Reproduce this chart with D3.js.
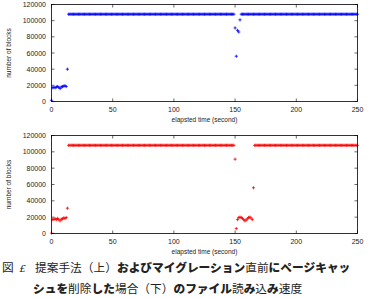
<!DOCTYPE html>
<html>
<head>
<meta charset="utf-8">
<script src="https://cdn.jsdelivr.net/npm/d3@7"></script>
<style>
  html, body { margin: 0; padding: 0; background: #fff; }
  svg { display: block; }
</style>
</head>
<body>
<div id="chart"></div>
<script>
// one sample per second, t = 0 .. 250
const proposedBlocks = [
  1500, 17000, 17500, 17000, 18000, 18500, 17500, 16000, 18000, 18500,
  19000, 19500, 18500, 40000, 108000, 108000, 108000, 108000, 108000, 108000,
  108000, 108000, 108000, 108000, 108000, 108000, 108000, 108000, 108000, 108000,
  108000, 108000, 108000, 108000, 108000, 108000, 108000, 108000, 108000, 108000,
  108000, 108000, 108000, 108000, 108000, 108000, 108000, 108000, 108000, 108000,
  108000, 108000, 108000, 108000, 108000, 108000, 108000, 108000, 108000, 108000,
  108000, 108000, 108000, 108000, 108000, 108000, 108000, 108000, 108000, 108000,
  108000, 108000, 108000, 108000, 108000, 108000, 108000, 108000, 108000, 108000,
  108000, 108000, 108000, 108000, 108000, 108000, 108000, 108000, 108000, 108000,
  108000, 108000, 108000, 108000, 108000, 108000, 108000, 108000, 108000, 108000,
  108000, 108000, 108000, 108000, 108000, 108000, 108000, 108000, 108000, 108000,
  108000, 108000, 108000, 108000, 108000, 108000, 108000, 108000, 108000, 108000,
  108000, 108000, 108000, 108000, 108000, 108000, 108000, 108000, 108000, 108000,
  108000, 108000, 108000, 108000, 108000, 108000, 108000, 108000, 108000, 108000,
  108000, 108000, 108000, 108000, 108000, 108000, 108000, 108000, 108000, 108000,
  91000, 56000, 88000, 86000, 101000, 108000, 108000, 108000, 108000, 108000,
  108000, 108000, 108000, 108000, 108000, 108000, 108000, 108000, 108000, 108000,
  108000, 108000, 108000, 108000, 108000, 108000, 108000, 108000, 108000, 108000,
  108000, 108000, 108000, 108000, 108000, 108000, 108000, 108000, 108000, 108000,
  108000, 108000, 108000, 108000, 108000, 108000, 108000, 108000, 108000, 108000,
  108000, 108000, 108000, 108000, 108000, 108000, 108000, 108000, 108000, 108000,
  108000, 108000, 108000, 108000, 108000, 108000, 108000, 108000, 108000, 108000,
  108000, 108000, 108000, 108000, 108000, 108000, 108000, 108000, 108000, 108000,
  108000, 108000, 108000, 108000, 108000, 108000, 108000, 108000, 108000, 108000,
  108000, 108000, 108000, 108000, 108000, 108000, 108000, 108000, 108000, 108000,
  108000
];

const droppedCacheBlocks = [
  500, 17000, 17500, 18000, 17000, 18500, 17000, 15500, 17500, 18000,
  19000, 18500, 19500, 31000, 108000, 108000, 108000, 108000, 108000, 108000,
  108000, 108000, 108000, 108000, 108000, 108000, 108000, 108000, 108000, 108000,
  108000, 108000, 108000, 108000, 108000, 108000, 108000, 108000, 108000, 108000,
  108000, 108000, 108000, 108000, 108000, 108000, 108000, 108000, 108000, 108000,
  108000, 108000, 108000, 108000, 108000, 108000, 108000, 108000, 108000, 108000,
  108000, 108000, 108000, 108000, 108000, 108000, 108000, 108000, 108000, 108000,
  108000, 108000, 108000, 108000, 108000, 108000, 108000, 108000, 108000, 108000,
  108000, 108000, 108000, 108000, 108000, 108000, 108000, 108000, 108000, 108000,
  108000, 108000, 108000, 108000, 108000, 108000, 108000, 108000, 108000, 108000,
  108000, 108000, 108000, 108000, 108000, 108000, 108000, 108000, 108000, 108000,
  108000, 108000, 108000, 108000, 108000, 108000, 108000, 108000, 108000, 108000,
  108000, 108000, 108000, 108000, 108000, 108000, 108000, 108000, 108000, 108000,
  108000, 108000, 108000, 108000, 108000, 108000, 108000, 108000, 108000, 108000,
  108000, 108000, 108000, 108000, 108000, 108000, 108000, 108000, 108000, 108000,
  91000, 6000, 17000, 19500, 20000, 19500, 18500, 17000, 15500, 16500,
  18000, 19500, 20000, 19000, 17000, 56000, 108000, 108000, 108000, 108000,
  108000, 108000, 108000, 108000, 108000, 108000, 108000, 108000, 108000, 108000,
  108000, 108000, 108000, 108000, 108000, 108000, 108000, 108000, 108000, 108000,
  108000, 108000, 108000, 108000, 108000, 108000, 108000, 108000, 108000, 108000,
  108000, 108000, 108000, 108000, 108000, 108000, 108000, 108000, 108000, 108000,
  108000, 108000, 108000, 108000, 108000, 108000, 108000, 108000, 108000, 108000,
  108000, 108000, 108000, 108000, 108000, 108000, 108000, 108000, 108000, 108000,
  108000, 108000, 108000, 108000, 108000, 108000, 108000, 108000, 108000, 108000,
  108000, 108000, 108000, 108000, 108000, 108000, 108000, 108000, 108000, 108000,
  108000
];

const xTicks = [0, 50, 100, 150, 200, 250];
const yTicks = [0, 20000, 40000, 60000, 80000, 100000, 120000];
const xLabel = "elapsted time (second)";
const yLabel = "number of blocks";
const captionNumber = ["図", "£"];
const captionLines = [
  "提案手法（上）およびマイグレーション直前にページキャッ",
  "シュを削除した場合（下）のファイル読み込み速度"
];

const W = 368, H = 298;
const tickFont = "'Liberation Sans', Arial, sans-serif";

const svg = d3.select("#chart").append("svg")
    .attr("width", W)
    .attr("height", H);

function drawPanel(values, color, top, bottom) {
  const left = 51.5, right = 357.5;

  const x = d3.scaleLinear().domain([0, 250]).range([left, right]);
  const y = d3.scaleLinear().domain([0, 120000]).range([bottom, top]);

  const g = svg.append("g");

  // markers: matplotlib style "+"
  const s = 1.6;
  let d = "";
  values.forEach((v, i) => {
    const px = x(i), py = y(v);
    d += `M${px - s},${py}H${px + s}M${px},${py - s}V${py + s}`;
  });
  g.append("path")
      .attr("d", d)
      .attr("stroke", color)
      .attr("stroke-width", 0.8)
      .attr("fill", "none");

  // frame
  g.append("rect")
      .attr("x", left)
      .attr("y", top)
      .attr("width", right - left)
      .attr("height", bottom - top)
      .attr("fill", "none")
      .attr("stroke", "#000")
      .attr("stroke-width", 0.8);

  const tl = 3;
  xTicks.forEach(t => {
    g.append("line")
        .attr("x1", x(t)).attr("x2", x(t))
        .attr("y1", bottom).attr("y2", bottom - tl)
        .attr("stroke", "#000").attr("stroke-width", 0.6);
    g.append("line")
        .attr("x1", x(t)).attr("x2", x(t))
        .attr("y1", top).attr("y2", top + tl)
        .attr("stroke", "#000").attr("stroke-width", 0.6);
    g.append("text")
        .attr("x", x(t))
        .attr("y", bottom + 10.5)
        .attr("text-anchor", "middle")
        .style("font-family", tickFont)
        .style("font-size", "7px")
        .style("fill", "#222")
        .text(t);
  });

  yTicks.forEach(t => {
    g.append("line")
        .attr("x1", left).attr("x2", left + tl)
        .attr("y1", y(t)).attr("y2", y(t))
        .attr("stroke", "#000").attr("stroke-width", 0.6);
    g.append("line")
        .attr("x1", right).attr("x2", right - tl)
        .attr("y1", y(t)).attr("y2", y(t))
        .attr("stroke", "#000").attr("stroke-width", 0.6);
    g.append("text")
        .attr("x", left - 5.5)
        .attr("y", y(t) + 2.5)
        .attr("text-anchor", "end")
        .style("font-family", tickFont)
        .style("font-size", "7px")
        .style("fill", "#222")
        .text(t);
  });

  g.append("text")
      .attr("x", (left + right) / 2)
      .attr("y", bottom + 20.5)
      .attr("text-anchor", "middle")
      .style("font-family", tickFont)
      .style("font-size", "6.5px")
      .style("fill", "#222")
      .text(xLabel);

  g.append("text")
      .attr("transform", `translate(10.5, ${(top + bottom) / 2}) rotate(-90)`)
      .attr("text-anchor", "middle")
      .style("font-family", tickFont)
      .style("font-size", "6.5px")
      .style("fill", "#222")
      .text(yLabel);
}

drawPanel(proposedBlocks, "#0000ff", 4.5, 101.5);
drawPanel(droppedCacheBlocks, "#ff0000", 135.5, 233.5);

// caption: kana rendered bold, kanji regular
const isKana = ch => /[\u3040-\u30ff]/.test(ch);
const capFont = "'Noto Sans CJK JP', sans-serif";
const capSize = 11.7;

svg.append("text")
    .attr("x", 2)
    .attr("y", 272)
    .style("font-family", capFont)
    .style("font-size", capSize + "px")
    .style("fill", "#222")
    .text(captionNumber[0]);

svg.append("text")
    .attr("x", 19.5)
    .attr("y", 272)
    .style("font-family", "'DejaVu Serif', serif")
    .style("font-style", "italic")
    .style("font-size", "10px")
    .style("fill", "#222")
    .text(captionNumber[1]);

[[35, 272], [33, 293]].forEach(([cx, cy], li) => {
  const t = svg.append("text")
      .attr("x", cx)
      .attr("y", cy)
      .style("font-family", capFont)
      .style("font-size", capSize + "px")
      .style("fill", "#222");
  Array.from(captionLines[li]).forEach(ch => {
    t.append("tspan")
        .style("font-weight", isKana(ch) ? 900 : 400)
        .text(ch);
  });
});
</script>
</body>
</html>
